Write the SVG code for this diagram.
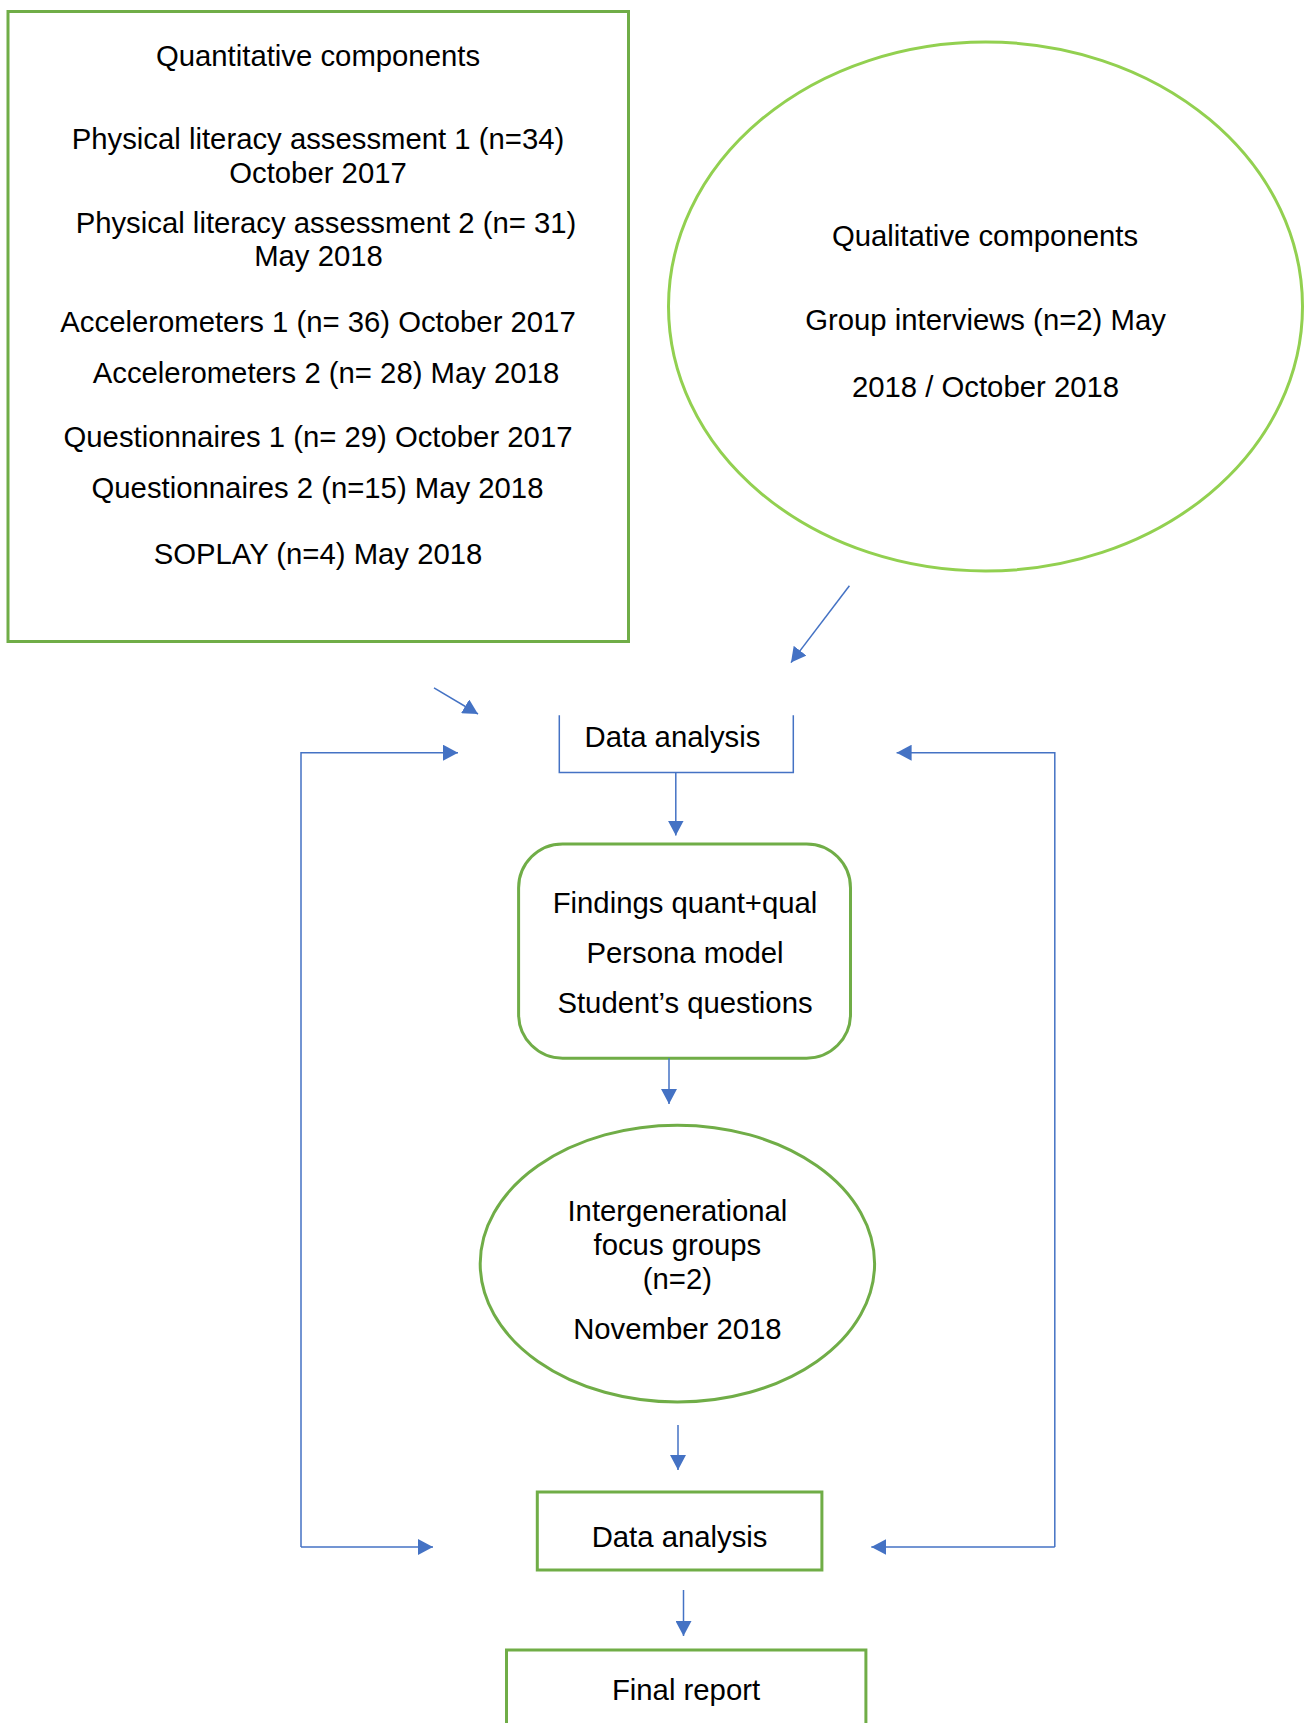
<svg xmlns="http://www.w3.org/2000/svg" width="1312" height="1723" viewBox="0 0 1312 1723">
  <style>
    .lbl { font-family: "Liberation Sans", Arial, sans-serif; font-size: 29.3px; fill: #000; text-anchor: middle; }
    .green { fill: #fff; stroke: #70AD47; stroke-width: 3; }
    .lime { fill: #fff; stroke: #92D050; stroke-width: 3; }
    .conn { fill: none; stroke: #4472C4; stroke-width: 1.5; }
  </style>
  <defs>
    <marker id="arrow" markerUnits="userSpaceOnUse" markerWidth="16" markerHeight="16" refX="15" refY="8" orient="auto">
      <path d="M0,0 L15,8 L0,16 z" fill="#4472C4"/>
    </marker>
  </defs>
  <rect width="1312" height="1723" fill="#fff"/>

  <g id="quantitative">
    <rect class="green" x="8" y="11.5" width="620.5" height="630"/>
    <text class="lbl" x="318" y="65.5">Quantitative components</text>
    <text class="lbl" x="318" y="149">Physical literacy assessment 1 (n=34)</text>
    <text class="lbl" x="318" y="182.5">October 2017</text>
    <text class="lbl" x="326" y="232.5">Physical literacy assessment 2 (n= 31)</text>
    <text class="lbl" x="318.5" y="266">May 2018</text>
    <text class="lbl" x="318" y="332">Accelerometers 1 (n= 36) October 2017</text>
    <text class="lbl" x="326" y="382.5">Accelerometers 2 (n= 28) May 2018</text>
    <text class="lbl" x="318" y="447">Questionnaires 1 (n= 29) October 2017</text>
    <text class="lbl" x="317.5" y="497.5">Questionnaires 2 (n=15) May 2018</text>
    <text class="lbl" x="318" y="564">SOPLAY (n=4) May 2018</text>
  </g>

  <g id="qualitative">
    <ellipse class="lime" cx="985.5" cy="306.5" rx="317" ry="264.5"/>
    <text class="lbl" x="985" y="245.5">Qualitative components</text>
    <text class="lbl" x="985.5" y="329.5">Group interviews (n=2) May</text>
    <text class="lbl" x="985.5" y="396.5">2018 / October 2018</text>
  </g>

  <g id="analysis1">
    <path class="conn" d="M559.3,715.3 V772.5 H793.3 V715.3"/>
    <text class="lbl" x="672.5" y="747">Data analysis</text>
  </g>

  <g id="findings">
    <rect class="green" x="518.6" y="843.9" width="331.9" height="214.3" rx="44" ry="44"/>
    <text class="lbl" x="685" y="913">Findings quant+qual</text>
    <text class="lbl" x="685" y="962.5">Persona model</text>
    <text class="lbl" x="685" y="1013">Student’s questions</text>
  </g>

  <g id="focus-groups">
    <ellipse class="green" cx="677.4" cy="1263.6" rx="197.2" ry="138.4"/>
    <text class="lbl" x="677.4" y="1221">Intergenerational</text>
    <text class="lbl" x="677.4" y="1255">focus groups</text>
    <text class="lbl" x="677.4" y="1289">(n=2)</text>
    <text class="lbl" x="677.4" y="1338.5">November 2018</text>
  </g>

  <g id="analysis2">
    <rect class="green" x="537.3" y="1492" width="284.6" height="78"/>
    <text class="lbl" x="679.6" y="1547">Data analysis</text>
  </g>

  <g id="final-report">
    <rect class="green" x="506.5" y="1650" width="359.4" height="90"/>
    <text class="lbl" x="686" y="1700">Final report</text>
  </g>

  <g id="connectors">
    <line class="conn" x1="849.4" y1="585.7" x2="791" y2="662.6" marker-end="url(#arrow)"/>
    <line class="conn" x1="434" y1="687.8" x2="478" y2="714" marker-end="url(#arrow)"/>
    <line class="conn" x1="675.8" y1="772.5" x2="675.8" y2="835.5" marker-end="url(#arrow)"/>
    <polyline class="conn" points="301,1547 301,752.7 458,752.7" marker-end="url(#arrow)"/>
    <line class="conn" x1="301" y1="1547" x2="433" y2="1547" marker-end="url(#arrow)"/>
    <polyline class="conn" points="1054.8,1547 1054.8,752.7 896.6,752.7" marker-end="url(#arrow)"/>
    <line class="conn" x1="1054.8" y1="1547" x2="871.3" y2="1547" marker-end="url(#arrow)"/>
    <line class="conn" x1="669" y1="1058.2" x2="669" y2="1104" marker-end="url(#arrow)"/>
    <line class="conn" x1="678" y1="1425" x2="678" y2="1470" marker-end="url(#arrow)"/>
    <line class="conn" x1="683.5" y1="1590" x2="683.5" y2="1636" marker-end="url(#arrow)"/>
  </g>
</svg>
